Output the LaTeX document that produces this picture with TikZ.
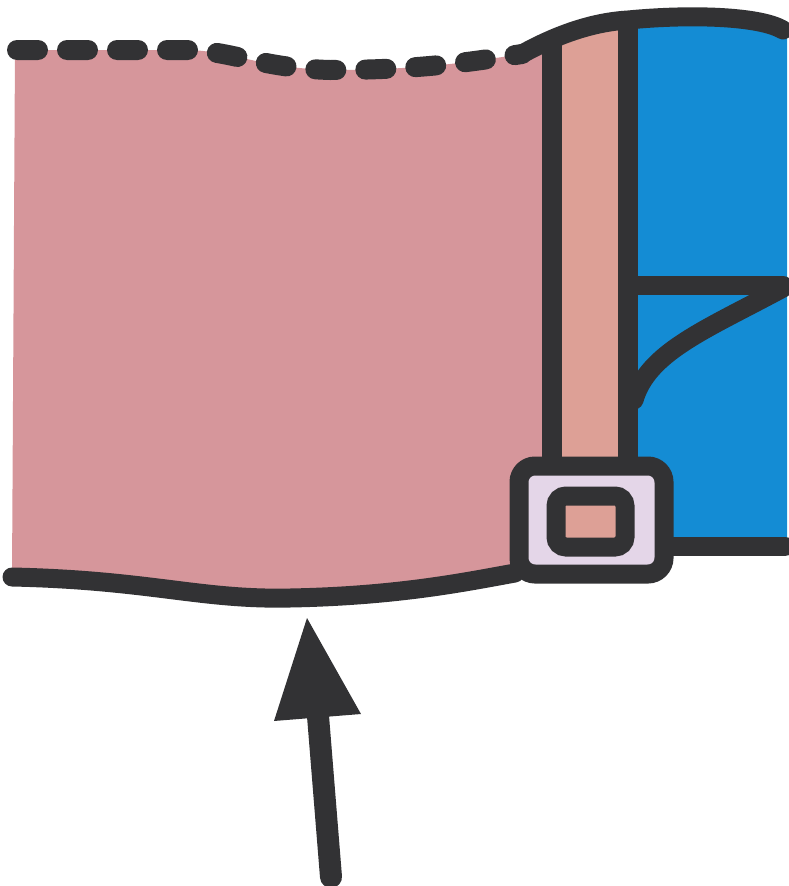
\documentclass[tikz,border=0pt]{standalone}
\begin{document}
\definecolor{ink}{RGB}{50,50,52}
\definecolor{cloth}{RGB}{214,150,155}
\definecolor{strapc}{RGB}{221,160,150}
\definecolor{cuff}{RGB}{20,140,212}
\definecolor{buckle}{RGB}{228,214,232}
\begin{tikzpicture}[x=1pt,y=-1pt,
  outline/.style={draw=ink,line width=19pt,line cap=round,line join=round},
  seam/.style={draw=ink,line width=20pt,line cap=round,dash pattern=on 21pt off 29pt}]
\useasboundingbox (0,0) rectangle (789,886);
% named points
\coordinate (tl) at (17,50);
\coordinate (ts) at (522,54);
\coordinate (sl) at (552,42);
\coordinate (sr) at (628,20);
\coordinate (tr) at (783,30);
\coordinate (bl) at (12,577);
\coordinate (br) at (515,573);
% blue cuff
\fill[cuff] (sr) .. controls (690,14) and (760,16) .. (787,32) -- (787,545) -- (628,545) -- cycle;
% strap
\fill[strapc] (sl) -- (sr) -- (628,470) -- (552,470) -- cycle;
% cloth body
\fill[cloth] (15,50) -- (190,50) .. controls (235,52) and (262,68) .. (330,70)
  .. controls (420,70) and (470,62) .. (ts) -- (sl) -- (552,570) -- (br)
  .. controls (470,581) and (400,596) .. (290,598)
  .. controls (200,600) and (150,580) .. (bl) -- cycle;
% dashed upper edge
\draw[seam] (tl) -- (190,50) .. controls (235,52) and (262,68) .. (330,70)
  .. controls (420,70) and (470,62) .. (ts);
% solid upper edge
\draw[outline] (ts) .. controls (560,33) and (595,22) .. (sr)
  .. controls (690,14) and (760,16) .. (tr);
% lower edge
\draw[outline] (bl) .. controls (150,580) and (200,600) .. (290,598)
  .. controls (400,596) and (470,581) .. (br);
% strap edges
\draw[ink,line width=20pt] (552,44) -- (552,470);
\draw[ink,line width=20pt] (628,22) -- (628,470);
% cuff lines
\draw[outline] (628,285) -- (783,285);
\draw[outline] (783,288) .. controls (705,330) and (648,352) .. (634,400);
\draw[outline] (664,546) -- (785,546);
% buckle
\draw[ink,line width=19pt,fill=buckle,rounded corners=16pt] (519,466) rectangle (664,574);
\draw[ink,line width=19pt,fill=strapc,rounded corners=10pt] (556,496) rectangle (625,547);
% arrow
\coordinate (atip) at (307,618);
\coordinate (abase) at (318,716);
\coordinate (atail) at (331,877);
\draw[ink,line width=22pt,line cap=round] (abase) -- (atail);
\fill[ink] (atip) -- (274,721) -- (361,714) -- cycle;
\end{tikzpicture}
\end{document}
